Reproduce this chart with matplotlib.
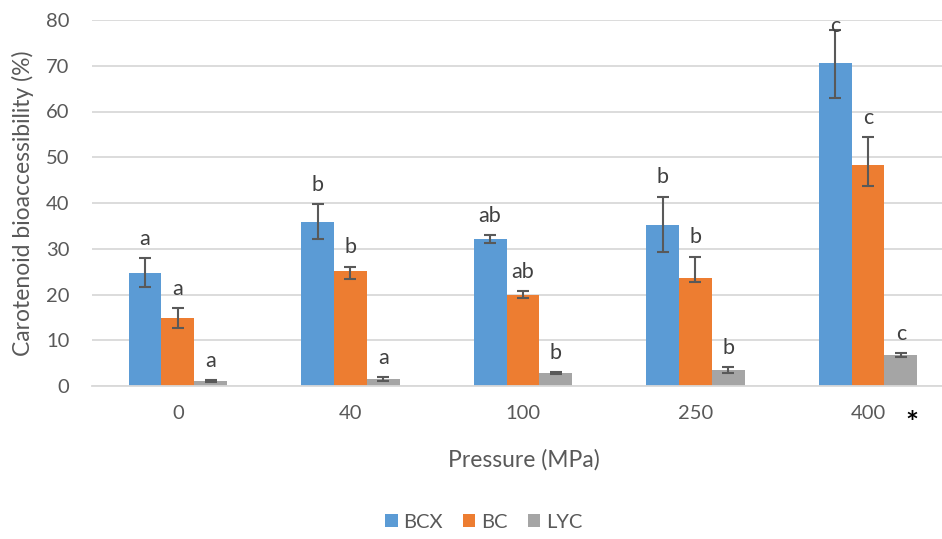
import matplotlib
matplotlib.use('Agg')
import matplotlib.pyplot as plt
import numpy as np

plt.rcParams['font.family'] = ['Lato', 'DejaVu Sans']

# data
pressures = ['0', '40', '100', '250', '400']
series = ['BCX', 'BC', 'LYC']
bcx = [24.8, 35.8, 32.1, 35.3, 70.5]
bc = [14.8, 25.1, 20.0, 23.5, 48.2]
lyc = [1.1, 1.5, 2.9, 3.5, 6.7]
# error bars (lower, upper)
bcx_err_lo = [3.1, 3.6, 0.9, 6.1, 7.5]
bcx_err_hi = [3.1, 3.9, 0.9, 6.1, 7.3]
bc_err_lo = [2.1, 1.8, 0.8, 0.8, 4.5]
bc_err_hi = [2.2, 1.0, 0.8, 4.8, 6.2]
lyc_err_lo = [0.2, 0.4, 0.2, 0.7, 0.4]
lyc_err_hi = [0.2, 0.5, 0.2, 0.7, 0.5]
# significance letters
bcx_sig = ['a', 'b', 'ab', 'b', 'c']
bc_sig = ['a', 'b', 'ab', 'b', 'c']
lyc_sig = ['a', 'a', 'b', 'b', 'c']

colors = ['#5B9BD5', '#ED7D31', '#A5A5A5']
values = [bcx, bc, lyc]
errs = [(bcx_err_lo, bcx_err_hi), (bc_err_lo, bc_err_hi), (lyc_err_lo, lyc_err_hi)]
sigs = [bcx_sig, bc_sig, lyc_sig]

W, H = 942, 539
fig = plt.figure(figsize=(W / 100, H / 100), dpi=100)
ax = fig.add_axes([91.7 / W, (H - 386) / H, 1 - 91.7 / W, (386 - 20) / H])

x = np.arange(len(pressures))
bw = 0.191
for i, (vals, c, (elo, ehi), sg) in enumerate(zip(values, colors, errs, sigs)):
    xs = x + (i - 1) * bw
    ax.bar(xs, vals, width=bw, color=c, label=series[i], zorder=2)
    ax.errorbar(xs, vals, yerr=[elo, ehi], fmt='none', ecolor='#595959',
                elinewidth=1.5, capsize=4.5, capthick=1.5, zorder=3)
    for xx, v, e, s in zip(xs, vals, ehi, sg):
        ly = min(v + e + 4.2, 78.6)
        ax.text(xx, ly, s, ha='center', va='center', fontsize=15.5, color='#404040', zorder=4)

ax.set_ylim(0, 80)
ax.set_xlim(-0.5, (W - 178) / 172.5)
ax.set_yticks(range(0, 81, 10))
ax.set_xticks(x)
ax.set_xticklabels(pressures)
ax.yaxis.grid(True, color='#D9D9D9', linewidth=1.3, zorder=0)
ax.set_axisbelow(True)
for s in ['top', 'right', 'left']:
    ax.spines[s].set_visible(False)
ax.spines['bottom'].set_color('#D9D9D9')
ax.spines['bottom'].set_linewidth(1.3)
ax.tick_params(axis='both', length=0, labelsize=14.5, labelcolor='#595959')
ax.tick_params(axis='y', pad=16)
ax.tick_params(axis='x', pad=14)

fig.text(23 / W, (H - 203.5) / H, 'Carotenoid bioaccessibility (%)', rotation=90,
         ha='center', va='center', fontsize=16.5, color='#595959')
fig.text(524 / W, (H - 460) / H, 'Pressure (MPa)', ha='center', va='center',
         fontsize=16.5, color='#595959')
fig.text(912 / W, (H - 424) / H, '*', ha='center', va='center', fontsize=22,
         fontweight='bold', color='black')

fig.legend(loc='center', bbox_to_anchor=(484 / W, (H - 522) / H), ncol=3, frameon=False,
           fontsize=14.5, labelcolor='#595959', handlelength=0.6, handleheight=0.6,
           handletextpad=0.3, columnspacing=1.0)

fig.savefig('out.png', dpi=100)
